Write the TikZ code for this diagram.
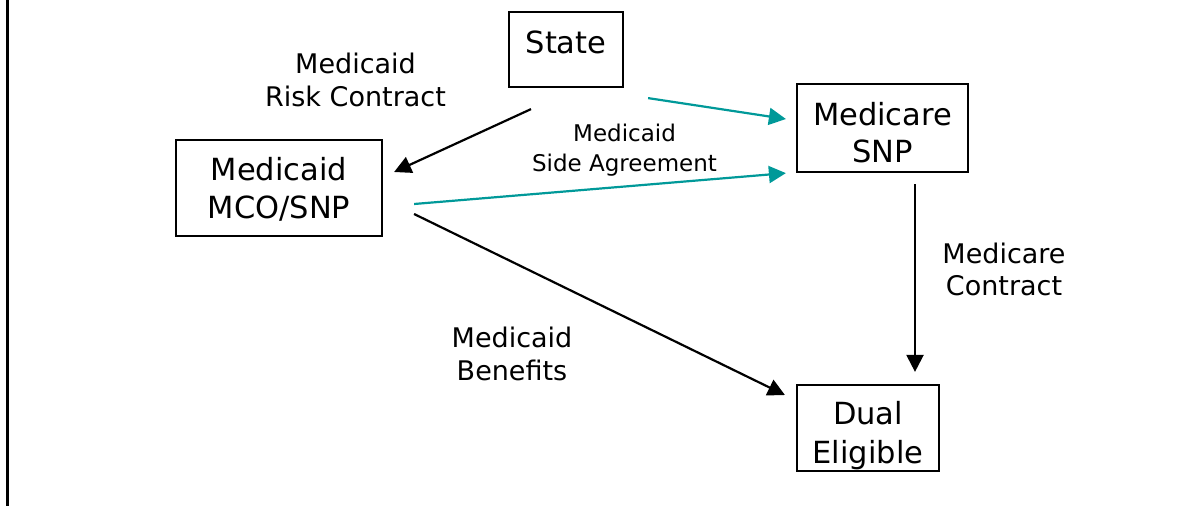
\documentclass[tikz,border=0pt]{standalone}
\usepackage{fontspec}
\setmainfont{DejaVu Sans}
\usetikzlibrary{arrows.meta,calc}
\definecolor{teal}{RGB}{0,153,153}
\tikzset{
  boxframe/.style={draw, line width=2.2pt, inner sep=0pt},
  boxtext/.style={anchor=base, align=center, inner sep=0pt, font=\fontsize{30.5}{38}\selectfont},
  lbl/.style={anchor=base, align=center, inner sep=0pt, font=\fontsize{27}{33}\selectfont},
  smalllbl/.style={anchor=base, align=center, inner sep=0pt, font=\fontsize{23}{30}\selectfont},
  blackarrow/.style={line width=2.2pt, -{Triangle[length=17pt,width=17pt]}},
  tealarrow/.style={line width=2.2pt, draw=teal, -{Triangle[length=17pt,width=17pt]}, teal}
}
\begin{document}
\begin{tikzpicture}[x=1pt,y=-1pt]
\useasboundingbox (0,0) rectangle (1201,515);
\fill[white] (0,0) rectangle (1201,515);
\draw[line width=2.5pt] (7.5,0) -- (7.5,506);

% boxes
\node[boxframe, minimum width=114pt, minimum height=75pt] (state) at (566,49.5) {};
\node[boxframe, minimum width=206pt, minimum height=96pt] (mco) at (279,188) {};
\node[boxframe, minimum width=171pt, minimum height=88pt] (msnp) at (882.5,128) {};
\node[boxframe, minimum width=142pt, minimum height=86pt] (dual) at (868,428) {};

% box texts (anchored at the baseline of the last line)
\node[boxtext] (statetext) at (566,53) {State};
\node[boxtext] (mcotext) at (279,218) {Medicaid\\MCO/SNP};
\node[boxtext, font=\fontsize{30.5}{37}\selectfont] (msnptext) at (882.5,162) {Medicare\\SNP};
\node[boxtext, font=\fontsize{30.5}{39}\selectfont] (dualtext) at (868,463) {Dual\\Eligible};

% labels
\node[lbl] (risk) at (355.5,106) {Medicaid\\Risk Contract};
\node[smalllbl] (side) at (624.5,171) {Medicaid\\Side Agreement};
\node[lbl, font=\fontsize{27}{32}\selectfont] (mcontract) at (1004,295) {Medicare\\Contract};
\node[lbl] (benefits) at (512,380) {Medicaid\\Benefits};

% connectors
\draw[blackarrow] ($(state.south)+(-35,21)$) -- ($(mco.east)+(11,-16)$);
\draw[tealarrow] ($(state.south east)+(24,10)$) -- ($(msnp.west)+(-10,-9)$);
\draw[tealarrow] ($(mco.east)+(31,16)$) -- ($(msnp.south west)+(-10,0)$);
\draw[blackarrow] ($(mco.east)+(31,26)$) -- ($(dual.west)+(-11,-33)$);
\draw[blackarrow] ($(msnp.south)+(32.5,11)$) -- ($(dual.north)+(47,-12)$);
\end{tikzpicture}
\end{document}
